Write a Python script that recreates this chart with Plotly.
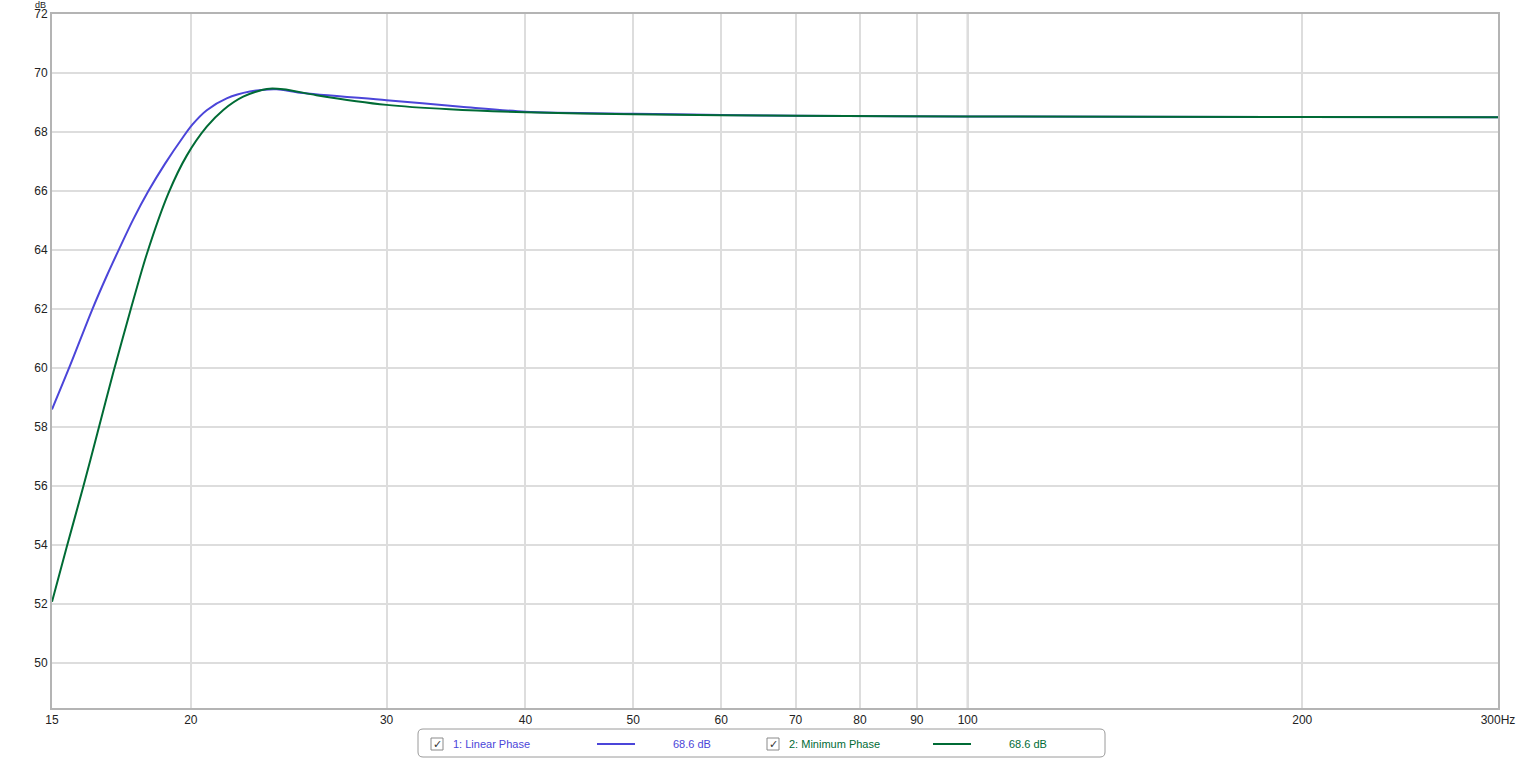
import math
import plotly.graph_objects as go

# ---- data ----
freq_linear = [15.0, 15.57, 16.29, 16.80, 17.27, 17.75, 18.31, 18.96, 19.69, 20.06, 20.67,
               21.54, 22.60, 23.89, 25.07, 30.0, 35.0, 40.0, 50.0, 60.0, 70.0, 100.0, 200.0, 300.0]
db_linear = [58.6, 60.08, 61.95, 63.12, 64.1, 65.04, 65.99, 66.93, 67.84, 68.25, 68.74,
             69.14, 69.37, 69.45, 69.33, 69.08, 68.86, 68.69, 68.62, 68.58, 68.55, 68.53, 68.51, 68.5]

freq_minimum = [15.0, 15.46, 16.01, 16.48, 17.03, 17.63, 18.25, 19.09, 19.83, 20.67, 21.39,
                22.29, 23.41, 24.22, 25.94, 30.0, 34.18, 40.0, 50.0, 60.0, 70.0, 100.0, 200.0, 300.0]
db_minimum = [52.08, 53.92, 56.0, 57.8, 59.85, 61.9, 63.85, 65.92, 67.2, 68.18, 68.75,
              69.2, 69.46, 69.45, 69.25, 68.92, 68.77, 68.67, 68.6, 68.57, 68.55, 68.53, 68.51, 68.5]

x_tickvals = [15, 20, 30, 40, 50, 60, 70, 80, 90, 100, 200, 300]
x_ticktext = ["15", "20", "30", "40", "50", "60", "70", "80", "90", "100", "200", "300Hz"]
y_tickvals = [50, 52, 54, 56, 58, 60, 62, 64, 66, 68, 70, 72]

series_names = ["1: Linear Phase", "2: Minimum Phase"]
series_readout = ["68.6 dB", "68.6 dB"]

BLUE = "#4b45d9"
GREEN = "#006b35"
FONT = "Liberation Sans"

fig = go.Figure()
fig.add_trace(go.Scatter(x=freq_linear, y=db_linear, mode="lines",
                         line=dict(color=BLUE, width=2, shape="spline", smoothing=0.8),
                         showlegend=False, hoverinfo="skip"))
fig.add_trace(go.Scatter(x=freq_minimum, y=db_minimum, mode="lines",
                         line=dict(color=GREEN, width=2, shape="spline", smoothing=0.8),
                         showlegend=False, hoverinfo="skip"))

W, H = 1524, 760
L, R, T, B = 52, 26, 14, 52
pw, ph = W - L - R, H - T - B


def px(xpix):
    return (xpix - L) / pw


def py(ypix):
    return (H - B - ypix) / ph


fig.update_layout(
    width=W, height=H,
    margin=dict(l=L, r=R, t=T, b=B),
    paper_bgcolor="white", plot_bgcolor="white",
    font=dict(family=FONT, size=12, color="#222222"),
    xaxis=dict(type="log", range=[math.log10(15), math.log10(300)], automargin=False,
               tickvals=x_tickvals, ticktext=x_ticktext, showgrid=True,
               gridcolor="#dddddd", gridwidth=2, zeroline=False,
               showline=True, linecolor="#b4b4b4", linewidth=2, mirror=True,
               ticks="", tickfont=dict(size=12, color="#222222")),
    yaxis=dict(range=[48.48, 72], tickvals=y_tickvals, showgrid=True, automargin=False,
               gridcolor="#dddddd", gridwidth=2, zeroline=False,
               showline=True, linecolor="#b4b4b4", linewidth=2, mirror=True,
               ticks="", tickfont=dict(size=12, color="#222222")),
)

# darker 100 Hz grid line
fig.add_shape(type="line", xref="x", yref="paper", x0=100, x1=100, y0=0, y1=1,
              line=dict(color="#bdbdbd", width=2), layer="below")

# dB unit label
fig.add_annotation(text="dB", xref="paper", yref="paper", x=px(47), y=py(-1), xanchor="right",
                   yanchor="top", showarrow=False, borderpad=0,
                   font=dict(size=9, color="#222222", family=FONT))

# legend box with rounded corners
x0, x1, y0, y1 = px(418), px(1105), py(757), py(729)
rx, ry = 5 / pw, 5 / ph
path = (f"M {x0+rx},{y1} L {x1-rx},{y1} Q {x1},{y1} {x1},{y1-ry} "
        f"L {x1},{y0+ry} Q {x1},{y0} {x1-rx},{y0} L {x0+rx},{y0} Q {x0},{y0} {x0},{y0+ry} "
        f"L {x0},{y1-ry} Q {x0},{y1} {x0+rx},{y1} Z")
fig.add_shape(type="path", xref="paper", yref="paper", path=path,
              line=dict(color="#9a9a9a", width=1), fillcolor="white")

colors = [BLUE, GREEN]
box_x = [431, 767]
name_x = [451, 787]
line_x = [(597, 635), (933, 971)]
read_x = [671, 1007]
for i in range(2):
    fig.add_shape(type="rect", xref="paper", yref="paper", x0=px(box_x[i]), x1=px(box_x[i] + 12),
                  y0=py(750), y1=py(738), line=dict(color="#8a8a8a", width=1), fillcolor="white")
    fig.add_annotation(text="✓", xref="paper", yref="paper", x=px(box_x[i] + 6), y=py(744),
                       xanchor="center", yanchor="middle", showarrow=False,
                       font=dict(size=11, color="#333333", family="DejaVu Sans"))
    fig.add_annotation(text=series_names[i], xref="paper", yref="paper", x=px(name_x[i]), y=py(744),
                       xanchor="left", yanchor="middle", showarrow=False,
                       font=dict(size=11, color=colors[i], family=FONT))
    fig.add_shape(type="line", xref="paper", yref="paper", x0=px(line_x[i][0]), x1=px(line_x[i][1]),
                  y0=py(744), y1=py(744), line=dict(color=colors[i], width=2))
    fig.add_annotation(text=series_readout[i], xref="paper", yref="paper", x=px(read_x[i]), y=py(744),
                       xanchor="left", yanchor="middle", showarrow=False,
                       font=dict(size=11, color=colors[i], family=FONT))

fig.write_html("out.html")
